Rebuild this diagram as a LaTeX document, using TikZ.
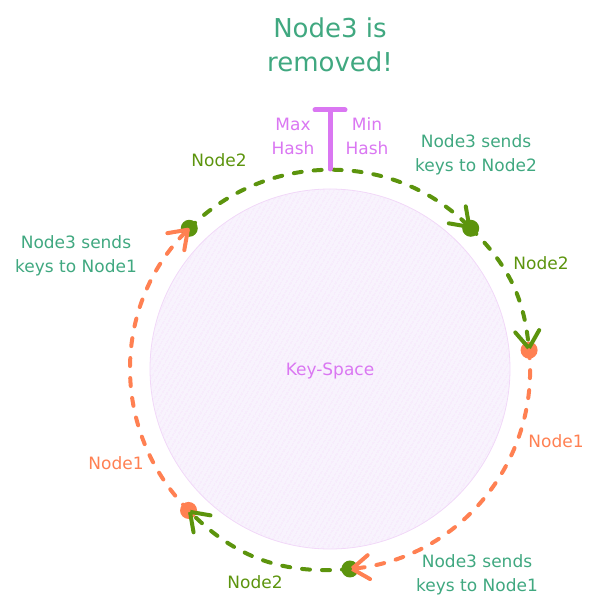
\documentclass[tikz,border=0pt]{standalone}
\usepackage{fontspec}
\setmainfont{DejaVu Sans}
\usetikzlibrary{arrows.meta,patterns.meta}
\definecolor{sendcol}{HTML}{40A880}
\definecolor{nodetwo}{HTML}{5C940D}
\definecolor{nodeone}{HTML}{FF8052}
\definecolor{hashcol}{HTML}{DA77F2}
\definecolor{spacefill}{HTML}{F8F3FD}
\definecolor{spaceline}{HTML}{F1D8F8}
\tikzset{
  ring/.style={line width=4pt, dash pattern=on 8pt off 12pt, line cap=round,
    -{Straight Barb[length=17pt,width=24pt,round]}},
  dot/.style={circle, fill, inner sep=0pt, minimum size=17pt},
  tag/.style={font=\fontsize{17}{24}\selectfont, align=center},
}
\begin{document}
\begin{tikzpicture}[x=1pt,y=1pt]
  \useasboundingbox (-330,-241) rectangle (262,369);
  % key space
  \draw[spaceline, line width=0.8pt, fill=spacefill,
    postaction={pattern={Lines[angle=60,distance=4pt,line width=0.6pt]}, pattern color=hashcol!22}]
    (0,0) circle (180);
  \node[tag, hashcol] (space) at (0,-2) {Key-Space};
  % nodes on the ring
  \path
    (135:199) node[dot, nodetwo] (n135) {}
    (45:199) node[dot, nodetwo] (n45) {}
    (5.4:200) node[dot, nodeone] (n5) {}
    (-84.3:201) node[dot, nodetwo] (n276) {}
    (-135:200) node[dot, nodeone] (n225) {};
  \begin{scope}[ring]
    \draw[nodetwo] (n135.center) to[bend left=45] (n45.center);
    \draw[nodetwo] (n45.center) to[bend left=20] (n5.center);
    \draw[nodeone] (n5.center) to[bend left=45] (n276.center);
    \draw[nodetwo] (n276.center) to[bend left=25] (n225.center);
    \draw[nodeone] (n225.center) to[bend left=45] (n135.center);
  \end{scope}
  % max/min hash marker
  \coordinate (tbase) at (0,200);
  \coordinate (ttop) at (0,259);
  \coordinate (tleft) at (-15,259);
  \coordinate (tright) at (15,259);
  \draw[hashcol, line width=5pt, line cap=round] (tbase) -- (ttop) (tleft) -- (tright);
  \node[tag, hashcol] (maxhash) at (-37,233) {Max\\Hash};
  \node[tag, hashcol] (minhash) at (37,233) {Min\\Hash};
  \node[sendcol, font=\fontsize{26}{34}\selectfont, align=center] (title) at (0,324) {Node3 is\\removed!};
  % labels
  \node[tag, nodetwo] (lbl135) at (-111,209) {Node2};
  \node[tag, sendcol] (send45) at (146,214) {Node3 sends\\keys to Node2};
  \node[tag, nodetwo] (lbl45) at (211,106) {Node2};
  \node[tag, nodeone] (lbl5) at (226,-72) {Node1};
  \node[tag, sendcol] (send276) at (147,-206) {Node3 sends\\keys to Node1};
  \node[tag, nodetwo] (lbl276) at (-75,-213) {Node2};
  \node[tag, nodeone] (lbl225) at (-214,-94) {Node1};
  \node[tag, sendcol] (send135) at (-254,113) {Node3 sends\\keys to Node1};
\end{tikzpicture}
\end{document}
